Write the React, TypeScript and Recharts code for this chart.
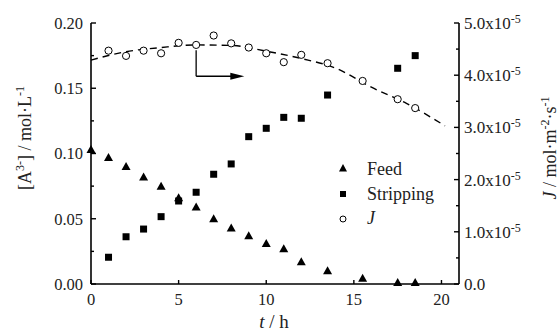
import React from "react";
import { ComposedChart, Scatter, Line, XAxis, YAxis, ReferenceLine, Legend } from "recharts";

// time (h) and concentrations
const feedHours = [0, 1, 2, 3, 4, 5, 6, 7, 8, 9, 10, 11, 12, 13.5, 15.5, 17.5, 18.5];
const feedConc = [0.103, 0.097, 0.09, 0.082, 0.075, 0.066, 0.059, 0.05, 0.043, 0.037, 0.031, 0.027, 0.017, 0.0102, 0.0045, 0.0012, 0.0012];

const stripHours = [1, 2, 3, 4, 5, 6, 7, 8, 9, 10, 11, 12, 13.5, 17.5, 18.5];
const stripConc = [0.0205, 0.0362, 0.0421, 0.0516, 0.0636, 0.0703, 0.0841, 0.092, 0.1129, 0.1193, 0.1277, 0.127, 0.1448, 0.1653, 0.175];

// flux J, in 1e-5 mol·m-2·s-1
const fluxHours = [1, 2, 3, 4, 5, 6, 7, 8, 9, 10, 11, 12, 13.5, 15.5, 17.5, 18.5];
const fluxVals = [4.47, 4.37, 4.47, 4.42, 4.62, 4.58, 4.76, 4.61, 4.53, 4.42, 4.25, 4.39, 4.23, 3.89, 3.54, 3.37];

// dashed fit curve
const fitHours = [0, 2, 4, 6, 8, 10, 12, 14, 16, 18, 20.2];
const fitVals = [4.29, 4.45, 4.53, 4.58, 4.57, 4.46, 4.32, 4.13, 3.77, 3.46, 3.03];

const xTicks = [0, 5, 10, 15, 20];
const xTickLabels = ["0", "5", "10", "15", "20"];
const leftTicks = [0, 0.025, 0.05, 0.075, 0.1, 0.125, 0.15, 0.175, 0.2];
const leftTickLabels = ["0.00", "0.05", "0.10", "0.15", "0.20"];
const rightTicks = [0, 0.5e-5, 1e-5, 1.5e-5, 2e-5, 2.5e-5, 3e-5, 3.5e-5, 4e-5, 4.5e-5, 5e-5];
const rightTickLabels = ["0.0", "1.0x10", "2.0x10", "3.0x10", "4.0x10", "5.0x10"];

const feedData = feedHours.map((t, i) => ({ t, c: feedConc[i] }));
const stripData = stripHours.map((t, i) => ({ t, c: stripConc[i] }));
const fluxData = fluxHours.map((t, i) => ({ t, j: fluxVals[i] * 1e-5 }));
const fitData = fitHours.map((t, i) => ({ t, j: fitVals[i] * 1e-5 }));

const SERIF = '"Liberation Serif"';
const txt = { fontFamily: SERIF, fill: "#222" };

const LeftTick = (p: any) => {
  const ax = p.x + 8;
  const major = p.index % 2 === 0;
  return (
    <g>
      <line x1={ax} x2={ax + (major ? 5 : 3)} y1={p.y} y2={p.y} stroke="#000" strokeWidth={1.4} />
      {major && (
        <text x={p.x} y={p.y} dy="0.35em" textAnchor="end" fontSize={16.5} fontFamily="Liberation Serif" style={txt}>
          {leftTickLabels[p.index / 2]}
        </text>
      )}
    </g>
  );
};

const RightTick = (p: any) => {
  const ax = p.x - 5;
  const major = p.index % 2 === 0;
  const k = p.index / 2;
  return (
    <g>
      <line x1={ax} x2={ax - (major ? 5 : 3)} y1={p.y} y2={p.y} stroke="#000" strokeWidth={1.4} />
      {major && (
        <text x={p.x} y={p.y} dy="0.35em" textAnchor="start" fontSize={17} fontFamily="Liberation Serif" style={txt}>
          {rightTickLabels[k]}
          {k > 0 && <tspan dy={-6} fontSize={12}>-5</tspan>}
        </text>
      )}
    </g>
  );
};

const BottomTick = (p: any) => {
  const ay = p.y - 9;
  return (
    <g>
      <line x1={p.x} x2={p.x} y1={ay} y2={ay - 4} stroke="#000" strokeWidth={1.4} />
      <text x={p.x} y={p.y} dy="0.75em" textAnchor="middle" fontSize={16.5} fontFamily="Liberation Serif" style={txt}>
        {xTickLabels[p.index]}
      </text>
    </g>
  );
};

const triangle = (p: any) => (
  <polygon points={`${p.cx},${p.cy - 4.5} ${p.cx - 4.5},${p.cy + 3.5} ${p.cx + 4.5},${p.cy + 3.5}`} fill="#000" />
);
const square = (p: any) => <rect x={p.cx - 3.5} y={p.cy - 3.5} width={7} height={7} fill="#000" />;
const circle = (p: any) => <circle cx={p.cx} cy={p.cy} r={3.6} fill="#fff" stroke="#000" strokeWidth={1} />;

const arrowShape = (p: any) => (
  <g>
    <line x1={p.x1} y1={p.y1} x2={p.x2 - 10} y2={p.y2} stroke="#000" strokeWidth={1.3} />
    <polygon points={`${p.x2},${p.y2} ${p.x2 - 14},${p.y2 - 3.5} ${p.x2 - 14},${p.y2 + 3.5}`} fill="#000" />
  </g>
);

const LegendBox = () => (
  <svg width={130} height={80} style={{ display: "block", fontFamily: SERIF }}>
    <polygon points="13,9 9,16.5 17,16.5" fill="#000" />
    <text x={37} y={20} fontSize={18} fontFamily="Liberation Serif" style={txt}>Feed</text>
    <rect x={10} y={36} width={6} height={6} fill="#000" />
    <text x={37} y={45} fontSize={18} fontFamily="Liberation Serif" style={txt}>Stripping</text>
    <circle cx={13} cy={64} r={3} fill="#fff" stroke="#000" strokeWidth={1} />
    <text x={37} y={69} fontSize={18} fontStyle="italic" fontFamily="Liberation Serif" style={txt}>J</text>
  </svg>
);

const LeftTitle = () => (
  <text x={31} y={138} transform="rotate(-90, 31, 138)" textAnchor="middle" fontSize={18} fontFamily="Liberation Serif" style={txt}>
    [A<tspan dy={-7} fontSize={12}>3-</tspan>
    <tspan dy={7}>] / mol·L</tspan>
    <tspan dy={-7} fontSize={12}>-1</tspan>
  </text>
);

const RightTitle = () => (
  <text x={556} y={148} transform="rotate(-90, 556, 148)" textAnchor="middle" fontSize={18} fontFamily="Liberation Serif" style={txt}>
    <tspan fontStyle="italic">J</tspan> / mol·m<tspan dy={-7} fontSize={12}>-2</tspan>
    <tspan dy={7}>·s</tspan>
    <tspan dy={-7} fontSize={12}>-1</tspan>
  </text>
);

const BottomTitle = () => (
  <text x={274} y={328} textAnchor="middle" fontSize={19} fontFamily="Liberation Serif" style={txt}>
    <tspan fontStyle="italic">t</tspan> / h
  </text>
);

export default function App() {
  return (
    <div style={{ position: "absolute", left: 0, top: 0, width: 559, height: 333, background: "#fff", fontFamily: SERIF }}>
      <ComposedChart width={559} height={333} margin={{ top: 23, right: 0, bottom: 0, left: 0 }} style={{ fontFamily: SERIF }}>
        <XAxis
          type="number"
          dataKey="t"
          domain={[0, 21]}
          ticks={xTicks}
          interval={0}
          height={49}
          tickSize={0}
          tickMargin={9}
          tickLine={false}
          axisLine={{ stroke: "#000", strokeWidth: 1.6 }}
          tick={(p: any) => <BottomTick {...p} />}
          label={<BottomTitle />}
        />
        <YAxis
          yAxisId="left"
          type="number"
          domain={[0, 0.2]}
          ticks={leftTicks}
          interval={0}
          width={91}
          tickSize={0}
          tickMargin={8}
          tickLine={false}
          axisLine={{ stroke: "#000", strokeWidth: 1.6 }}
          tick={(p: any) => <LeftTick {...p} />}
          label={<LeftTitle />}
        />
        <YAxis
          yAxisId="right"
          orientation="right"
          type="number"
          domain={[0, 5e-5]}
          ticks={rightTicks}
          interval={0}
          width={100}
          tickSize={0}
          tickMargin={5}
          tickLine={false}
          axisLine={{ stroke: "#000", strokeWidth: 1.6 }}
          tick={(p: any) => <RightTick {...p} />}
          label={<RightTitle />}
        />
        <Line
          yAxisId="right"
          data={fitData}
          dataKey="j"
          type="monotone"
          stroke="#000"
          strokeWidth={1.4}
          strokeDasharray="7 5"
          dot={false}
          activeDot={false}
          isAnimationActive={false}
          legendType="none"
        />
        <ReferenceLine
          yAxisId="right"
          segment={[{ x: 6, y: 4.48e-5 }, { x: 6, y: 3.98e-5 }]}
          stroke="#000"
          strokeWidth={1.3}
        />
        <ReferenceLine
          yAxisId="right"
          segment={[{ x: 6, y: 3.98e-5 }, { x: 8.75, y: 3.98e-5 }]}
          shape={arrowShape}
        />
        <Scatter yAxisId="left" name="Feed" data={feedData} dataKey="c" shape={triangle} isAnimationActive={false} />
        <Scatter yAxisId="left" name="Stripping" data={stripData} dataKey="c" shape={square} isAnimationActive={false} />
        <Scatter yAxisId="right" name="J" data={fluxData} dataKey="j" shape={circle} isAnimationActive={false} />
        <Legend
          layout="vertical"
          align="center"
          verticalAlign="middle"
          content={() => <LegendBox />}
          wrapperStyle={{ left: 330, top: 155, width: 130, height: 80 }}
        />
      </ComposedChart>
    </div>
  );
}
